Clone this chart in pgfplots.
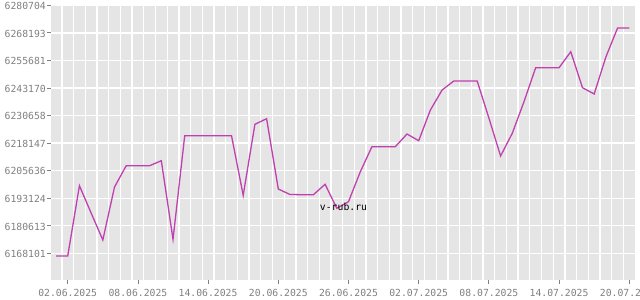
\documentclass[border=0pt]{standalone}
\usepackage{fontspec}
\setmonofont{DejaVu Sans Mono}
\usepackage{pgfplots}
\pgfplotsset{compat=1.18}
\definecolor{bg}{HTML}{E5E5E5}
\definecolor{lab}{HTML}{808080}
\definecolor{ln}{HTML}{C040B0}
\pgfplotstableread{
d v
-1 6166875
0 6166875
1 6198794
2 6186398
3 6174140
4 6198203
5 6207873
6 6207873
7 6207873
8 6210143
9 6174457
10 6221494
11 6221494
12 6221494
13 6221494
14 6221494
15 6194435
16 6226671
17 6229213
18 6197295
19 6194798
20 6194707
21 6194707
22 6199429
23 6188532
24 6191529
25 6205013
26 6216501
27 6216501
28 6216501
29 6222268
30 6219226
31 6233163
32 6242244
33 6246330
34 6246330
35 6246330
36 6229531
37 6212279
38 6222586
39 6236934
40 6252371
41 6252371
42 6252371
43 6259636
44 6243289
45 6240429
46 6257228
47 6270396
48 6270396
}\rates
\begin{document}
\begin{tikzpicture}
\useasboundingbox (0,0) rectangle (640bp,300bp);
\begin{axis}[
  at={(51bp,20bp)}, anchor=south west,
  width=584bp, height=275bp, scale only axis,
  xmin=-1.43, xmax=48.49,
  ymin=6155978, ymax=6280840,
  axis background/.style={fill=bg},
  axis line style={draw=none},
  tick pos=left, tick align=outside,
  major tick length=4bp, minor tick length=0pt,
  tick style={lab, line width=0.8bp},
  xtick={0,6,12,18,24,30,36,42,48},
  xticklabels={02.06.2025,08.06.2025,14.06.2025,20.06.2025,26.06.2025,02.07.2025,08.07.2025,14.07.2025,20.07.2025},
  minor xtick={-0.5,0.5,...,47.5},
  ytick={6168101,6180613,6193124,6205636,6218147,6230658,6243170,6255681,6268193,6280704},
  yticklabels={6168101,6180613,6193124,6205636,6218147,6230658,6243170,6255681,6268193,6280704},
  ymajorgrids, xminorgrids,
  major grid style={white, line width=1.3bp},
  minor grid style={white, line width=1.3bp},
  ticklabel style={font=\ttfamily\fontsize{9.8}{11}\selectfont, text=lab},
  xticklabel style={inner sep=1bp, yshift=-4bp},
  yticklabel style={inner sep=1bp, yshift=-0.8bp},
]
\addplot[ln, line width=1.3bp, mark=none] table[x=d, y=v] {\rates};
\end{axis}
\node[font=\ttfamily\fontsize{9.8}{11}\selectfont, text=black] at (343.5bp,93bp) {v-rub.ru};
\end{tikzpicture}
\end{document}
